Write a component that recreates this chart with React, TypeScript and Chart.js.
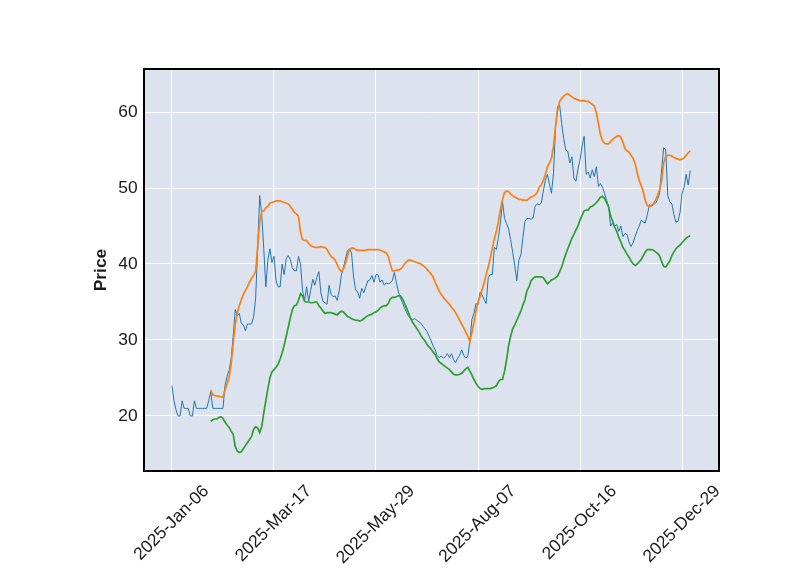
import React, { useEffect, useRef } from "react";
import { Chart, registerables } from "chart.js";

Chart.register(...registerables);

const xTickPositions = [0, 50, 100, 150, 200, 250];
const xTickLabels = ["2025-Jan-06", "2025-Mar-17", "2025-May-29", "2025-Aug-07", "2025-Oct-16", "2025-Dec-29"];
const yTicks = [20, 30, 40, 50, 60];
const yLabel = "Price";

// closing price, one value per trading day (index 0..254)
const price = [
  24.0, 22.0, 20.8, 20.0, 20.0, 22.0, 21.0, 21.0, 21.0, 20.0,
  20.0, 22.0, 21.0, 21.0, 21.0, 21.0, 21.0, 21.0, 22.0, 23.2,
  21.0, 21.0, 21.0, 21.0, 21.0, 21.0, 24.0, 25.2, 26.0, 27.5,
  30.5, 34.0, 33.2, 33.5, 32.2, 32.0, 31.2, 32.1, 32.1, 32.1,
  33.0, 35.5, 42.0, 49.0, 46.5, 42.0, 37.0, 40.5, 42.0, 40.2,
  41.0, 37.8, 37.0, 37.0, 40.0, 38.6, 40.7, 41.1, 40.6, 39.5,
  39.1, 39.1, 41.0, 40.0, 36.5, 35.2, 37.0, 35.1, 36.5, 38.0,
  37.2, 38.2, 39.0, 36.2, 35.1, 34.9, 34.7, 37.2, 36.0, 35.7,
  35.8, 35.2, 36.5, 38.5, 39.5, 40.6, 41.7, 42.0, 41.5, 38.3,
  36.6, 36.3, 35.5, 36.8, 36.2, 37.0, 37.8, 37.9, 38.5, 37.6,
  38.6, 38.6, 37.6, 37.9, 37.2, 37.5, 37.4, 37.5, 37.8, 38.9,
  37.6, 36.3, 35.5, 34.9, 34.2, 33.6, 33.1, 32.8, 32.7, 32.8,
  32.6, 32.4, 32.2, 31.8, 31.5, 31.1, 30.5, 29.9, 29.2, 28.7,
  27.9, 27.7, 27.9, 27.6, 27.8, 28.2, 27.7, 28.2, 27.4, 27.0,
  27.6, 28.0, 28.7, 28.0, 27.6, 27.9, 29.8, 32.7, 33.5, 34.8,
  34.6, 36.3, 35.9, 35.3, 34.8, 38.2, 38.6, 38.6, 42.2, 41.9,
  43.5, 45.5, 48.2, 46.0, 45.3, 44.6, 43.2, 41.5, 39.8, 37.8,
  40.5, 41.2, 43.5, 45.6, 46.0, 46.0, 45.9, 46.1, 47.6, 47.9,
  47.8, 48.0, 49.6, 51.0, 51.8, 50.5, 49.3, 52.0, 58.0, 60.7,
  60.9, 58.5, 56.5, 55.0, 54.8, 53.3, 54.1, 51.3, 50.9, 52.5,
  53.7, 55.5, 56.8, 51.8, 52.1, 51.3, 52.4, 51.5, 52.8, 50.2,
  50.6, 50.1, 49.3, 48.4, 47.5, 45.0, 45.4, 45.0, 45.2, 44.3,
  45.0, 43.6, 44.0, 43.9, 42.9, 42.3, 42.8, 43.6, 44.4, 45.0,
  45.8, 45.5, 45.4, 46.5, 47.8, 47.6, 47.8, 48.0, 48.5, 49.3,
  52.5, 55.3, 55.0, 49.0, 48.2, 47.9, 46.5, 45.5, 45.6, 46.8,
  49.3, 50.1, 51.8, 50.4, 52.3,
];

// the two smoothed series start at this index
const maStart = 19;

const upperLine = [
  23.4,
  22.8, 22.7, 22.6, 22.6, 22.5, 22.5, 23.4, 24.2, 25.1, 26.8,
  29.5, 32.0, 33.5, 34.5, 35.3, 36.0, 36.5, 37.0, 37.6, 38.1,
  38.5, 39.0, 42.3, 45.5, 46.9, 47.0, 47.4, 47.6, 48.0, 48.1,
  48.2, 48.3, 48.3, 48.3, 48.2, 48.1, 48.0, 47.9, 47.6, 47.2,
  46.8, 46.6, 46.3, 44.2, 43.2, 43.1, 43.1, 42.7, 42.4, 42.3,
  42.2, 42.2, 42.2, 42.3, 42.2, 42.2, 41.9, 41.4, 41.0, 40.8,
  40.5, 39.9, 39.3, 39.0, 39.3, 40.1, 41.0, 41.9, 42.1, 42.1,
  41.9, 41.8, 41.8, 41.8, 41.8, 41.8, 41.9, 41.9, 41.9, 41.9,
  41.9, 41.9, 41.8, 41.7, 41.6, 41.5, 41.0, 40.0, 39.1, 39.1,
  39.2, 39.2, 39.3, 39.6, 40.0, 40.3, 40.5, 40.5, 40.4, 40.3,
  40.2, 40.1, 40.0, 39.8, 39.6, 39.3, 39.0, 38.7, 38.3, 37.6,
  37.0, 36.4, 36.0, 35.6, 35.3, 35.0, 34.7, 34.3, 34.0, 33.6,
  33.1, 32.6, 32.1, 31.6, 31.0, 30.5, 29.8, 31.0, 32.3, 33.8,
  35.0, 35.7, 36.6, 37.5, 38.6, 39.6, 40.7, 42.1, 43.3, 44.3,
  45.6, 47.2, 48.5, 49.4, 49.6, 49.5, 49.2, 49.0, 48.8, 48.7,
  48.5, 48.5, 48.4, 48.4, 48.4, 48.6, 48.8, 48.9, 49.1, 49.4,
  50.1, 50.4, 51.0, 51.8, 52.8, 53.3, 53.9, 55.5, 58.2, 60.2,
  61.4, 61.8, 62.1, 62.3, 62.4, 62.2, 62.0, 61.8, 61.7, 61.6,
  61.5, 61.5, 61.5, 61.4, 61.4, 61.2, 61.0, 60.8, 59.9, 58.5,
  57.0, 56.2, 55.9, 55.8, 55.8, 56.1, 56.4, 56.6, 56.8, 56.9,
  56.7, 56.0, 55.2, 54.9, 54.7, 54.3, 53.9, 53.2, 52.0, 51.0,
  50.3, 49.5, 48.3, 47.7, 47.6, 47.7, 47.9, 48.4, 49.0, 49.8,
  51.0, 53.3, 54.2, 54.3, 54.3, 54.2, 54.0, 53.9, 53.8, 53.7,
  53.8, 54.0, 54.3, 54.6, 54.9,
];

const lowerLine = [
  19.3,
  19.5, 19.6, 19.6, 19.8, 19.9, 19.7, 19.2, 18.8, 18.5, 18.0,
  17.6, 16.0, 15.4, 15.2, 15.3, 15.7, 16.1, 16.5, 16.9, 17.3,
  18.2, 18.6, 18.4, 17.8, 18.6, 20.4, 22.0, 23.6, 25.0, 25.8,
  26.1, 26.4, 26.8, 27.5, 28.3, 29.3, 30.5, 31.7, 32.9, 34.0,
  34.5, 34.6, 35.2, 36.1, 35.8, 35.1, 35.0, 35.0, 34.9, 34.9,
  35.0, 35.0, 34.5, 34.2, 33.8, 33.5, 33.6, 33.6, 33.6, 33.5,
  33.4, 33.3, 33.6, 33.8, 33.7, 33.4, 33.1, 33.0, 32.8, 32.7,
  32.6, 32.6, 32.5, 32.6, 32.8, 33.0, 33.2, 33.3, 33.4, 33.6,
  33.7, 33.9, 34.2, 34.4, 34.5, 34.5, 34.8, 35.4, 35.6, 35.6,
  35.7, 35.8, 35.8, 35.4, 34.8, 34.2, 33.5, 32.8, 32.3, 31.9,
  31.5, 31.1, 30.6, 30.2, 29.9, 29.4, 29.1, 28.8, 28.4, 28.1,
  27.5, 27.1, 26.9, 26.7, 26.5, 26.3, 26.1, 25.8, 25.5, 25.4,
  25.4, 25.5, 25.6, 25.9, 26.2, 26.4, 25.9, 25.4, 24.8, 24.3,
  23.9, 23.6, 23.5, 23.6, 23.6, 23.6, 23.6, 23.7, 23.8, 24.0,
  24.5, 24.8, 24.8, 25.9, 27.4, 29.3, 30.5, 31.5, 32.0, 32.6,
  33.2, 33.8, 34.6, 35.3, 36.5, 37.0, 37.8, 38.1, 38.3, 38.3,
  38.3, 38.3, 38.2, 37.8, 37.4, 37.6, 37.9, 38.0, 38.2, 38.4,
  39.0, 39.6, 40.5, 41.3, 42.0, 42.7, 43.4, 43.9, 44.5, 45.0,
  45.8, 46.4, 47.0, 47.1, 47.1, 47.5, 47.6, 47.8, 48.1, 48.4,
  48.8, 48.9, 48.6, 48.1, 47.5, 46.3, 45.6, 44.8, 44.3, 43.5,
  42.9, 42.2, 41.8, 41.3, 40.9, 40.4, 40.0, 39.8, 40.0, 40.3,
  40.6, 41.1, 41.6, 41.9, 41.9, 41.9, 41.8, 41.6, 41.4, 41.1,
  40.3, 39.7, 39.6, 40.0, 40.4, 41.1, 41.6, 42.0, 42.3, 42.5,
  42.8, 43.1, 43.4, 43.6, 43.7,
];

const FONT = "'Liberation Sans', Arial, sans-serif";
const FONT_SIZE = 17.4;
const TEXT_COLOR = "#1a1a1a";
const BG = "#dde3ee";

const bgPlugin = {
  id: "bgPlugin",
  beforeDraw(chart: any) {
    const { ctx, chartArea: a } = chart;
    ctx.save();
    ctx.fillStyle = "#ffffff";
    ctx.fillRect(0, 0, chart.width, chart.height);
    ctx.fillStyle = BG;
    ctx.fillRect(a.left, a.top, a.right - a.left, a.bottom - a.top);
    ctx.restore();
  },
  afterDatasetsDraw(chart: any) {
    const { ctx, chartArea: a } = chart;
    ctx.save();
    ctx.strokeStyle = "#000000";
    ctx.lineWidth = 2;
    ctx.strokeRect(a.left, a.top, a.right - a.left, a.bottom - a.top);
    ctx.restore();
  },
  afterDraw(chart: any) {
    const { ctx, chartArea: a } = chart;
    const xs = chart.scales.x;
    const ys = chart.scales.y;
    ctx.save();
    ctx.font = `${FONT_SIZE}px ${FONT}`;
    ctx.fillStyle = TEXT_COLOR;

    // y tick labels
    ctx.textAlign = "right";
    ctx.textBaseline = "middle";
    yTicks.forEach((v) => {
      ctx.fillText(String(v), a.left - 6.3, ys.getPixelForValue(v));
    });

    // rotated x tick labels, centred on the tick like matplotlib
    ctx.textAlign = "center";
    ctx.textBaseline = "alphabetic";
    const top = a.bottom + 12;
    const c = Math.SQRT1_2;
    xTickLabels.forEach((label, i) => {
      const px = xs.getPixelForValue(xTickPositions[i]);
      const m = ctx.measureText(label);
      const asc = 0.716 * FONT_SIZE;
      const desc = 0.21 * FONT_SIZE;
      const ext = (m.width + asc + desc) * c;
      ctx.save();
      ctx.translate(px, top + ext / 2);
      ctx.rotate(-Math.PI / 4);
      ctx.fillText(label, 0, (asc - desc) / 2);
      ctx.restore();
    });
    ctx.restore();
  },
};

export default function App() {
  const ref = useRef<HTMLCanvasElement | null>(null);

  useEffect(() => {
    if (!ref.current) return;
    const toPts = (arr: number[], start: number) => arr.map((v, i) => ({ x: i + start, y: v }));
    const chart = new Chart(ref.current, {
      type: "line",
      data: {
        datasets: [
          {
            label: "Close",
            data: toPts(price, 0),
            borderColor: "#1f77b4",
            borderWidth: 1,
            pointRadius: 0,
            tension: 0,
            order: 3,
          },
          {
            label: "Upper",
            data: toPts(upperLine, maStart),
            borderColor: "#ff7f0e",
            borderWidth: 1.7,
            pointRadius: 0,
            tension: 0,
            order: 2,
          },
          {
            label: "Lower",
            data: toPts(lowerLine, maStart),
            borderColor: "#2ca02c",
            borderWidth: 1.7,
            pointRadius: 0,
            tension: 0,
            order: 1,
          },
        ],
      },
      options: {
        animation: false,
        responsive: false,
        devicePixelRatio: 1,
        events: [],
        layout: { padding: { left: 91, top: 69, right: 81, bottom: 0 } },
        plugins: { legend: { display: false }, tooltip: { enabled: false } },
        scales: {
          x: {
            type: "linear",
            min: -13.7,
            max: 268.1,
            grid: { color: "#ffffff", lineWidth: 1, drawTicks: false },
            border: { display: false },
            ticks: { display: false },
            afterBuildTicks: (s: any) => {
              s.ticks = xTickPositions.map((v) => ({ value: v }));
            },
            afterFit: (s: any) => {
              s.height = 104;
            },
          },
          y: {
            type: "linear",
            min: 12.76,
            max: 65.66,
            grid: { color: "#ffffff", lineWidth: 1, drawTicks: false },
            border: { display: false },
            ticks: { display: false },
            afterBuildTicks: (s: any) => {
              s.ticks = yTicks.map((v) => ({ value: v }));
            },
            afterFit: (s: any) => {
              s.width = 53;
            },
            title: {
              display: true,
              text: yLabel,
              color: TEXT_COLOR,
              padding: { top: 0, bottom: 0 },
              font: { family: FONT, size: FONT_SIZE, weight: "bold" },
            },
          },
        },
      },
      plugins: [bgPlugin],
    });
    return () => chart.destroy();
  }, []);

  return (
    <div style={{ position: "absolute", left: 0, top: 0, width: 800, height: 575, background: "#fff" }}>
      <canvas ref={ref} width={800} height={575} style={{ display: "block", width: 800, height: 575 }} />
    </div>
  );
}
